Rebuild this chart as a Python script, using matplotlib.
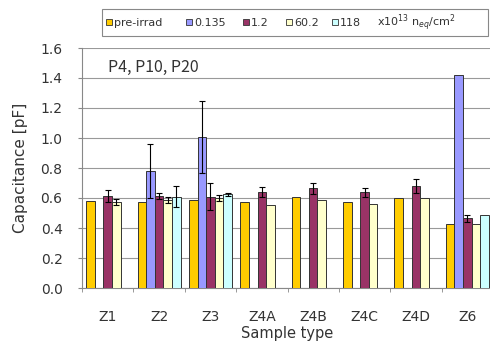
import numpy as np
import matplotlib
matplotlib.use("Agg")
import matplotlib.pyplot as plt
from matplotlib.patches import Rectangle

plt.rcParams['font.family'] = ['DejaVu Sans']

categories = ["Z1", "Z2", "Z3", "Z4A", "Z4B", "Z4C", "Z4D", "Z6"]
series_names = ["pre-irrad", "0.135", "1.2", "60.2", "118"]
unit_label = r"x10$^{13}$ n$_{eq}$/cm$^2$"
nan = np.nan
pre_irrad = [0.582, 0.575, 0.587, 0.573, 0.605, 0.571, 0.603, 0.424]
f0135 = [nan, 0.78, 1.01, nan, nan, nan, nan, 1.42]
f12 = [0.613, 0.613, 0.607, 0.640, 0.664, 0.638, 0.680, 0.465]
f602 = [0.575, 0.587, 0.597, 0.553, 0.587, 0.560, 0.603, 0.428]
f118 = [nan, 0.609, 0.624, nan, nan, nan, nan, 0.487]
err_pre = [0, 0, 0, 0, 0, 0, 0, 0]
err0135 = [0, 0.18, 0.24, 0, 0, 0, 0, 0]
err12 = [0.04, 0.02, 0.09, 0.035, 0.035, 0.03, 0.045, 0.025]
err602 = [0.02, 0.02, 0.02, 0, 0, 0, 0, 0]
err118 = [0, 0.07, 0.01, 0, 0, 0, 0, 0]

values = [pre_irrad, f0135, f12, f602, f118]
errors = [err_pre, err0135, err12, err602, err118]
colors = ["#FFCC00", "#9999FF", "#993366", "#FFFFCC", "#CCFFFF"]
text_c = "#333333"

W, H = 490, 347
fig = plt.figure(figsize=(W / 100, H / 100), dpi=100)
ax = fig.add_axes([82 / W, 59 / H, 411 / W, 240 / H])

x = np.arange(len(categories))
w = 0.167
for i, (vals, errs, c) in enumerate(zip(values, errors, colors)):
    pos = x + (i - 2) * w
    v = np.array(vals, dtype=float)
    ax.bar(pos, v, width=w, color=c, edgecolor="#333333", linewidth=0.7, zorder=3)
    e = np.array(errs, dtype=float)
    m = (e > 0) & ~np.isnan(v)
    if m.any():
        ax.errorbar(pos[m], v[m], yerr=e[m], fmt='none', ecolor='black',
                    elinewidth=0.8, capsize=2.5, capthick=0.8, zorder=4)

ax.set_xlim(-0.5, len(categories) - 0.5)
ax.set_ylim(0, 1.6)
yt = np.arange(0, 1.61, 0.2)
ax.set_yticks(yt)
ax.set_yticklabels([f"{t:.1f}" for t in yt], fontsize=10, color=text_c)
ax.set_xticks(x)
ax.set_xticklabels(categories, fontsize=10, color=text_c)
ax.set_xticks(np.arange(-0.5, len(categories)), minor=True)
ax.tick_params(axis='x', which='major', length=0, pad=16)
ax.tick_params(axis='x', which='minor', length=3, color="#888888")
ax.tick_params(axis='y', length=3, color="#888888", pad=11)
ax.grid(axis='y', color="#999999", linewidth=0.8, zorder=0)
for s in ["top", "right"]:
    ax.spines[s].set_visible(False)
ax.spines["left"].set_color("#888888")
ax.spines["bottom"].set_color("#888888")
ax.set_ylabel("Capacitance [pF]", fontsize=11, color=text_c, labelpad=9)
ax.set_xlabel("Sample type", fontsize=10.5, color=text_c, labelpad=1)

ax.text(0.0, 1.467, "P4, P10, P20", fontsize=11.5, color=text_c, va='center', ha='left',
        family=['Noto Sans CJK JP', 'DejaVu Sans'])

# legend box drawn in figure pixel coordinates
def fx(px):
    return px / W

def fy(py):
    return 1 - py / H

fig.patches.append(Rectangle((fx(102), fy(36)), fx(488) - fx(102), fy(9) - fy(36),
                             transform=fig.transFigure, facecolor='white',
                             edgecolor="#888888", linewidth=0.8))
marker_x = [106, 186, 243, 286, 332]
ycen = 22.5
ms = 6
for mx, c, name in zip(marker_x, colors, series_names):
    fig.patches.append(Rectangle((fx(mx), fy(ycen + ms / 2 - 1)), ms / W, ms / H,
                                 transform=fig.transFigure, facecolor=c,
                                 edgecolor="#333333", linewidth=0.6))
    fig.text(fx(mx + ms + 2), fy(ycen), name, fontsize=8, color=text_c,
             va='center', ha='left')
fig.text(fx(377), fy(ycen), unit_label, fontsize=8, color=text_c, va='center', ha='left')

fig.savefig("out.png", dpi=100)
